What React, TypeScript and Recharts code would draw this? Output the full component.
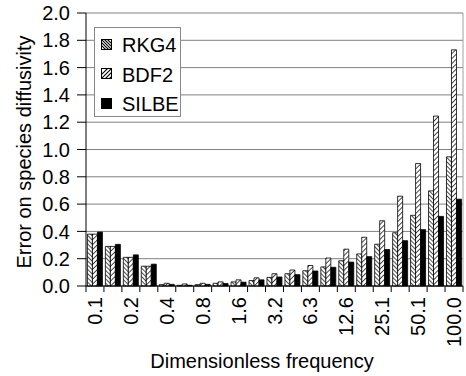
import { BarChart, Bar, XAxis, YAxis, CartesianGrid } from "recharts";

const frequencies = [
  "0.1", "0.14", "0.2", "0.28", "0.4", "0.56", "0.8", "1.1", "1.6", "2.2", "3.2",
  "4.5", "6.3", "8.9", "12.6", "17.8", "25.1", "35.5", "50.1", "70.8", "100.0",
];

const rkg4 = [
  0.38, 0.29, 0.21, 0.145, 0.01, 0.005, 0.01, 0.02, 0.03, 0.04, 0.063,
  0.09, 0.112, 0.14, 0.185, 0.235, 0.306, 0.39, 0.518, 0.697, 0.946,
];
const bdf2 = [
  0.38, 0.29, 0.21, 0.145, 0.02, 0.015, 0.02, 0.03, 0.045, 0.06, 0.09,
  0.117, 0.15, 0.205, 0.27, 0.357, 0.478, 0.658, 0.897, 1.245, 1.73,
];
const silbe = [
  0.395, 0.305, 0.228, 0.16, 0.012, 0.005, 0.012, 0.018, 0.028, 0.045, 0.066,
  0.083, 0.11, 0.137, 0.175, 0.215, 0.267, 0.332, 0.413, 0.51, 0.636,
];

const yTicks = [0, 0.2, 0.4, 0.6, 0.8, 1.0, 1.2, 1.4, 1.6, 1.8, 2.0];

const data = frequencies.map((f, i) => ({
  freq: f,
  RKG4: rkg4[i],
  BDF2: bdf2[i],
  SILBE: silbe[i],
}));

const FONT = "'Liberation Sans', Arial, sans-serif";
const W = 466;
const H = 376;
const LEFT = 86;
const RIGHT = 3;
const BAND = (W - LEFT - RIGHT) / frequencies.length;

const FreqTick = (props: any) => {
  const { x, y, payload, index } = props;
  const half = BAND / 2;
  return (
    <g>
      <line x1={x - half} x2={x - half} y1={y} y2={y + 6} stroke="#000" />
      {index === frequencies.length - 1 && (
        <line x1={x + half} x2={x + half} y1={y} y2={y + 6} stroke="#000" />
      )}
      {index % 2 === 0 && (
        <text
          transform={`translate(${x + 7},${y + 11}) rotate(-90)`}
          textAnchor="end"
          fontSize={20}
          fontFamily={FONT}
          fill="#000"
        >
          {payload.value}
        </text>
      )}
    </g>
  );
};

const legendItems = [
  { name: "RKG4", kind: "back" },
  { name: "BDF2", kind: "fwd" },
  { name: "SILBE", kind: "solid" },
];

const LegendIcon = ({ kind }: { kind: string }) => (
  <svg width={11} height={11} style={{ display: "block" }}>
    <rect x={0.5} y={0.5} width={10} height={10} fill={kind === "solid" ? "#000" : "#fff"} stroke="#000" />
    {kind === "back" &&
      [-6, -3, 0, 3, 6].map((d) => (
        <line key={d} x1={d} y1={0} x2={d + 11} y2={11} stroke="#000" strokeWidth={1.1} />
      ))}
    {kind === "fwd" &&
      [-4, 0, 4, 8, 12].map((d) => (
        <line key={d} x1={d} y1={11} x2={d + 11} y2={0} stroke="#000" strokeWidth={1.1} />
      ))}
  </svg>
);

const ChartLegend = () => (
  <div
    style={{
      position: "absolute",
      left: 94,
      top: 27,
      width: 87,
      height: 90,
      border: "1px solid #888",
      background: "#fff",
      paddingTop: 3,
      boxSizing: "border-box",
      fontFamily: FONT,
      fontSize: 20,
    }}
  >
    {legendItems.map((it) => (
      <div key={it.name} style={{ display: "flex", alignItems: "center", height: 29.5 }}>
        <div style={{ marginLeft: 6, marginRight: 10, marginTop: -3 }}>
          <LegendIcon kind={it.kind} />
        </div>
        <span style={{ color: "#000" }}>{it.name}</span>
      </div>
    ))}
  </div>
);

const App = () => {
  return (
    <div style={{ position: "absolute", left: 0, top: 0, width: W, height: H, background: "#fff" }}>
      <BarChart
        width={W}
        height={H}
        data={data}
        margin={{ top: 13, right: RIGHT, bottom: 0, left: 0 }}
        barCategoryGap="8%"
        barGap={0}
      >
        <defs>
          <pattern id="hatchBack" patternUnits="userSpaceOnUse" width={3} height={3} patternTransform="rotate(-45)">
            <rect width={3} height={3} fill="#fff" />
            <line x1={0} y1={0} x2={0} y2={3} stroke="#000" strokeWidth={1.4} />
          </pattern>
          <pattern id="hatchFwd" patternUnits="userSpaceOnUse" width={3.5} height={3.5} patternTransform="rotate(45)">
            <rect width={3.5} height={3.5} fill="#fff" />
            <line x1={0} y1={0} x2={0} y2={3.5} stroke="#000" strokeWidth={1.4} />
          </pattern>
        </defs>
        <CartesianGrid horizontal vertical={false} stroke="#808080" strokeWidth={1} />
        <CartesianGrid horizontal={false} vertical verticalPoints={[W - RIGHT]} stroke="#a0a0a0" strokeWidth={1} />
        <XAxis
          dataKey="freq"
          interval={0}
          height={90}
          tickSize={0}
          tickMargin={0}
          tick={<FreqTick />}
          axisLine={{ stroke: "#000" }}
          label={{
            content: () => (
              <text x={262} y={368} textAnchor="middle" fontSize={20} fontFamily={FONT} fill="#000">
                Dimensionless frequency
              </text>
            ),
          }}
        />
        <YAxis
          width={LEFT}
          domain={[0, 2]}
          ticks={yTicks}
          interval={0}
          tickFormatter={(v: number) => v.toFixed(1)}
          tickSize={9}
          tickMargin={7}
          tickLine={{ stroke: "#000" }}
          axisLine={{ stroke: "#000" }}
          tick={{ fontSize: 20, fontFamily: FONT, fill: "#000" }}
          label={{
            content: () => (
              <text
                transform="translate(31,152) rotate(-90)"
                textAnchor="middle"
                fontSize={20}
                fontFamily={FONT}
                fill="#000"
              >
                Error on species diffusivity
              </text>
            ),
          }}
        />
        <Bar dataKey="RKG4" fill="url(#hatchBack)" stroke="#000" strokeWidth={0.8} isAnimationActive={false} />
        <Bar dataKey="BDF2" fill="url(#hatchFwd)" stroke="#000" strokeWidth={0.8} isAnimationActive={false} />
        <Bar dataKey="SILBE" fill="#000" stroke="#000" strokeWidth={0.8} isAnimationActive={false} />
      </BarChart>
      <ChartLegend />
    </div>
  );
};

export default App;
